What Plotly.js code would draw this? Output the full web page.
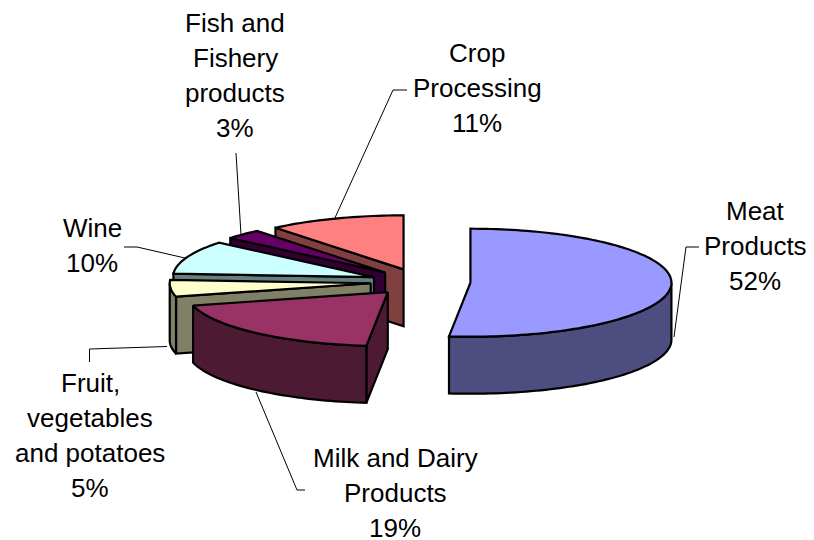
<!DOCTYPE html>
<html>
<head>
<meta charset="utf-8">
<script src="https://cdn.plot.ly/plotly-3.0.1.min.js"></script>
<style>html,body{margin:0;padding:0;background:#fff}#chart{width:814px;height:540px}</style>
</head>
<body>
<div id="chart"></div>
<script>
// Data, clockwise from 12 o'clock
const categories = ['Meat<br>Products', 'Milk and Dairy<br>Products', 'Fruit,<br>vegetables<br>and potatoes', 'Wine', 'Fish and<br>Fishery<br>products', 'Crop<br>Processing'];
const shares = [51.7, 19.3, 5, 10, 3, 11];
const topColors = ['#9999FF', '#993366', '#FFFFCC', '#CCFFFF', '#660066', '#FF8080'];
const wallColors = ['#4D4D80', '#4D1A33', '#808066', '#668080', '#330033', '#804040'];

// Projection of the tilted pie onto the plot's axes
const centerX = 420.5, centerY = 282, radiusX = 201, radiusY = 54, depth = 57, explode = 50;
const drawOrder = [5, 4, 3, 2, 1, 0];

// Label layout: centre x, first-line y
const labelCenters = [[755, 211], [395, 458], [90, 383], [92, 228], [235, 23], [477, 53]];
const lineGap = 35;
const leaders = [
  [[674, 337], [686, 247], [699, 247]],
  [[256, 392], [297, 490], [305, 490]],
  [[167, 346.5], [89.5, 349], [89.5, 362]],
  [[185, 258], [137, 247], [124, 247]],
  [[241, 235], [236, 153]],
  [[334, 220], [393, 90], [407, 90]]
];

const rad = d => d * Math.PI / 180;
const total = shares.reduce((a, b) => a + b, 0);
let running = 0;
const slices = shares.map(v => {
  const a0 = running / total * 360;
  running += v;
  const a1 = running / total * 360;
  const mid = rad((a0 + a1) / 2);
  return {a0, a1,
    ax: centerX + explode * Math.sin(mid),
    ay: centerY - explode * Math.cos(mid) * radiusY / radiusX};
});
const rim = (s, a) => [s.ax + radiusX * Math.sin(rad(a)), s.ay - radiusY * Math.cos(rad(a))];
const arc = (s, from, to) => {
  const n = Math.max(2, Math.ceil((to - from) / 1.5));
  const pts = [];
  for (let i = 0; i <= n; i++) pts.push(rim(s, from + (to - from) * i / n));
  return pts;
};
const poly = (pts, fill) => ({
  type: 'scatter', mode: 'lines', hoverinfo: 'skip', showlegend: false,
  x: pts.map(p => p[0]).concat(pts[0][0]),
  y: pts.map(p => p[1]).concat(pts[0][1]),
  fill: 'toself', fillcolor: fill,
  line: {color: '#000', width: 2.2, simplify: false}
});

const traces = [];
drawOrder.forEach(i => {
  const s = slices[i], wall = wallColors[i], apex = [s.ax, s.ay];
  // radial wall on the start edge, if it faces the viewer
  if (s.a0 > 180 && s.a0 < 360) {
    const r = rim(s, s.a0);
    traces.push(poly([apex, r, [r[0], r[1] + depth], [apex[0], apex[1] + depth]], wall));
  }
  // outer curved wall, front half only
  const f = Math.max(s.a0, 90), t = Math.min(s.a1, 270);
  if (t > f) {
    const a = arc(s, f, t);
    const lower = a.slice().reverse().map(p => [p[0], p[1] + depth]);
    traces.push(poly(a.concat(lower), wall));
  }
  // top face
  traces.push(poly([apex].concat(arc(s, s.a0, s.a1)), topColors[i]));
});

const annotations = [];
categories.forEach((c, i) => {
  c.split('<br>').concat(Math.round(shares[i]) + '%').forEach((line, k) => {
    annotations.push({
      text: line, x: labelCenters[i][0], y: labelCenters[i][1] + k * lineGap,
      xref: 'x', yref: 'y', xanchor: 'center', yanchor: 'middle', showarrow: false,
      font: {family: '"Liberation Sans", Arial, sans-serif', size: 26, color: '#000'}
    });
  });
});

const shapes = leaders.map(pts => ({
  type: 'path', xref: 'x', yref: 'y',
  path: pts.map((p, k) => (k ? 'L' : 'M') + p[0] + ' ' + p[1]).join(' '),
  line: {color: '#000', width: 1}, layer: 'below'
}));

Plotly.newPlot('chart', traces, {
  width: 814, height: 540,
  margin: {l: 0, r: 0, t: 0, b: 0},
  paper_bgcolor: '#fff', plot_bgcolor: '#fff',
  xaxis: {range: [0, 814], visible: false, fixedrange: true},
  yaxis: {range: [540, 0], visible: false, fixedrange: true},
  annotations, shapes, showlegend: false
}, {displayModeBar: false, staticPlot: true});
</script>
</body>
</html>
